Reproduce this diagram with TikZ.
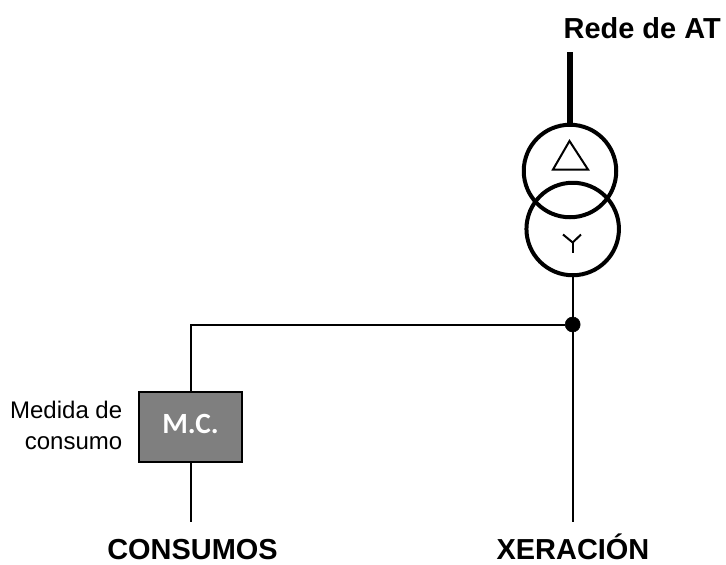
\documentclass[tikz,border=0pt]{standalone}
\usepackage{fontspec}
\setmainfont{Liberation Sans}
\newfontfamily\boxfont{Carlito}
\definecolor{boxgrey}{RGB}{127,127,127}
\tikzset{
  winding/.style={draw,circle,line width=3pt,minimum size=92.5*0.75pt,inner sep=0pt},
  wire/.style={line width=1.5pt},
  symbolline/.style={line width=1.5pt},
  bigtext/.style={inner sep=0.75pt,font=\fontsize{21.7}{25}\selectfont\bfseries},
  smalltext/.style={inner sep=0.75pt,font=\fontsize{18}{23.5}\selectfont,align=right}
}

\begin{document}
\begin{tikzpicture}[x=0.75pt,y=0.75pt,yscale=-1,xscale=1]
\useasboundingbox (0,0) rectangle (726,565);

%Transformer windings
\node [winding] (delta) at (570,171) {};
\node [winding] (star) at (572.7,229) {};
\coordinate (hvtop) at (570,52);
\draw [line width=3.8pt] (hvtop) -- (delta.north);

%Delta symbol
\draw [symbolline] (569.5,141) -- (588,169.5) -- (553,169.5) -- cycle;
%Star symbol
\draw [symbolline] (563,234.5) -- (572.7,242.5) -- (581,234.5);
\draw [symbolline] (572.7,242.5) -- (572.7,252.5);

%Junction and bus
\node [draw,circle,fill=black,minimum size=15*0.75pt,inner sep=0pt] (junction) at (572.7,324.5) {};
\node [draw,line width=1.1pt,fill=boxgrey,minimum width=103*0.75pt,minimum height=70*0.75pt,inner sep=0pt,text=white,font=\boxfont\fontsize{22}{25}\selectfont\bfseries] (meter) at (190.5,427) {\raisebox{4pt}{M.C.}};
\coordinate (genend) at (572.7,522);
\coordinate (loadend) at (190.5,522);
\draw [wire] (star.south) -- (junction);
\draw [wire] (junction) -- (genend);
\draw [wire] (junction) -- (190.5,324.5) -- (meter.north);
\draw [wire] (meter.south) -- (loadend);

% Text Node
\node [bigtext,anchor=base east] (hvlabel) at (722,38.5) {Rede de AT};
% Text Node
\node [bigtext,anchor=base] (loadlabel) at (192.5,559.5) {CONSUMOS};
% Text Node
\node [bigtext,anchor=base] (genlabel) at (573,559.5) {XERACIÓN};
% Text Node
\node [smalltext,anchor=east] (meterlabel) at (123.5,425.5) {Medida de\\consumo};

\end{tikzpicture}
\end{document}
